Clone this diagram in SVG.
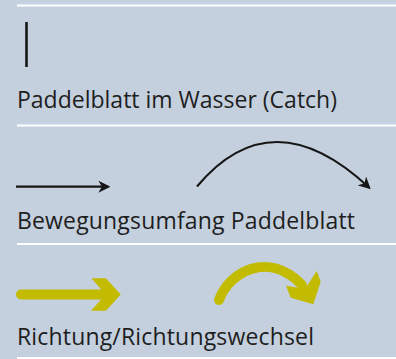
<svg xmlns="http://www.w3.org/2000/svg" width="396" height="359" viewBox="0 0 396 359">
<style>
.bg{fill:#c5d0de}
.sep{stroke:#ffffff;stroke-width:2;fill:none}
.lbl{font-family:"Open Sans","Noto Sans",sans-serif;font-size:23px;fill:#1e1e1e}
.blk{stroke:#161616;fill:none}
.ylw{stroke:#c2bb00;fill:none;stroke-linecap:round;stroke-width:10}
.yfill{fill:#c2bb00}
</style>
<defs>
<marker id="blkhead" viewBox="0 0 10 10" refX="8" refY="5" markerWidth="5.5" markerHeight="5.5" orient="auto" markerUnits="strokeWidth">
<path d="M0,0 L10,5 L0,10 L3,5 Z" fill="#161616"/>
</marker>
</defs>
<rect class="bg" x="0" y="0" width="396" height="359"/>
<g id="separators">
<line class="sep" x1="17" y1="5.5" x2="396" y2="5.5"/>
<line class="sep" x1="17" y1="125.5" x2="396" y2="125.5"/>
<line class="sep" x1="17" y1="244" x2="396" y2="244"/>
<line class="sep" x1="17" y1="358" x2="396" y2="358"/>
</g>
<g id="catch">
<line class="blk" x1="26.5" y1="22" x2="26.5" y2="67" stroke-width="2.6"/>
<text class="lbl" x="17" y="108" textLength="320" lengthAdjust="spacing">Paddelblatt im Wasser (Catch)</text>
</g>
<g id="bewegung">
<text class="lbl" x="17" y="228.5" textLength="338" lengthAdjust="spacing">Bewegungsumfang Paddelblatt</text>
</g>
<g id="richtung">
<text class="lbl" x="17" y="345" textLength="297" lengthAdjust="spacing">Richtung/Richtungswechsel</text>
</g>
<g id="connectors">
<line class="blk" x1="16" y1="186.7" x2="108" y2="186.7" stroke-width="2.2" marker-end="url(#blkhead)"/>
<path class="blk" d="M197,186.5 Q272,97 369,187.5" stroke-width="2.2" marker-end="url(#blkhead)"/>
<line class="ylw" x1="21" y1="294.5" x2="106" y2="294.5" stroke-linecap="round"/>
<polygon class="yfill" points="91.5,278.3 106,278.3 120.7,294.5 106,310.7 91,310.7 105.5,294.5"/>
<path class="ylw" d="M219,300 C229,272 268,250 302,285"/>
<polygon class="yfill" points="286,285.7 305,289 316.7,271 320.7,281.7 313.3,304.3 290.7,297.7"/>
</g>
</svg>
